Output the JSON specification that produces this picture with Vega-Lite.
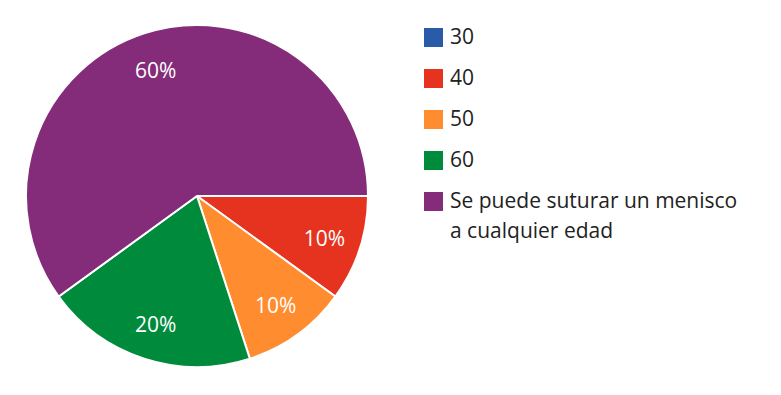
{
  "$schema": "https://vega.github.io/schema/vega-lite/v6.json",
  "width": 342,
  "height": 342,
  "padding": {"left": 26, "top": 25, "right": 413, "bottom": 28},
  "autosize": {"type": "none"},
  "background": "white",
  "config": {"view": {"stroke": null}, "font": "Open Sans", "style": {"guide-label": {"lineHeight": 30}}},
  "data": {
    "values": [
      {"categoria": "30", "valor": 0, "orden": 1, "etiqueta": "0%"},
      {"categoria": "40", "valor": 10, "orden": 2, "etiqueta": "10%"},
      {"categoria": "50", "valor": 10, "orden": 3, "etiqueta": "10%"},
      {"categoria": "60", "valor": 20, "orden": 4, "etiqueta": "20%"},
      {"categoria": "Se puede suturar un menisco a cualquier edad", "valor": 60, "orden": 5, "etiqueta": "60%"}
    ]
  },
  "encoding": {
    "theta": {"field": "valor", "type": "quantitative", "stack": true, "scale": {"range": [1.5708, 7.854]}},
    "order": {"field": "orden", "type": "quantitative"}
  },
  "layer": [
    {
      "mark": {"type": "arc", "outerRadius": 171, "stroke": "white", "strokeWidth": 2},
      "encoding": {
        "color": {
          "field": "categoria",
          "type": "nominal",
          "scale": {
            "domain": ["30", "40", "50", "60", "Se puede suturar un menisco a cualquier edad"],
            "range": ["#2a5ba8", "#e5331f", "#ff8c2e", "#008a3b", "#842b7a"]
          },
          "legend": {
            "title": null,
            "orient": "none",
            "legendX": 397,
            "legendY": 2,
            "symbolType": "square",
            "symbolSize": 361,
            "symbolStrokeWidth": 0,
            "labelFontSize": 21,
            "labelColor": "#222222",
            "labelFont": "Open Sans",
            "labelLimit": 400,
            "labelOffset": 6,
            "rowPadding": 19,
            "labelExpr": "datum.label == 'Se puede suturar un menisco a cualquier edad' ? ['Se puede suturar un menisco', 'a cualquier edad'] : datum.label"
          }
        }
      }
    },
    {
      "transform": [{"filter": "datum.valor > 0"}],
      "mark": {"type": "text", "radius": 134, "fontSize": 21, "color": "white", "font": "Open Sans", "dy": 3},
      "encoding": {
        "text": {"field": "etiqueta", "type": "nominal"}
      }
    }
  ]
}
